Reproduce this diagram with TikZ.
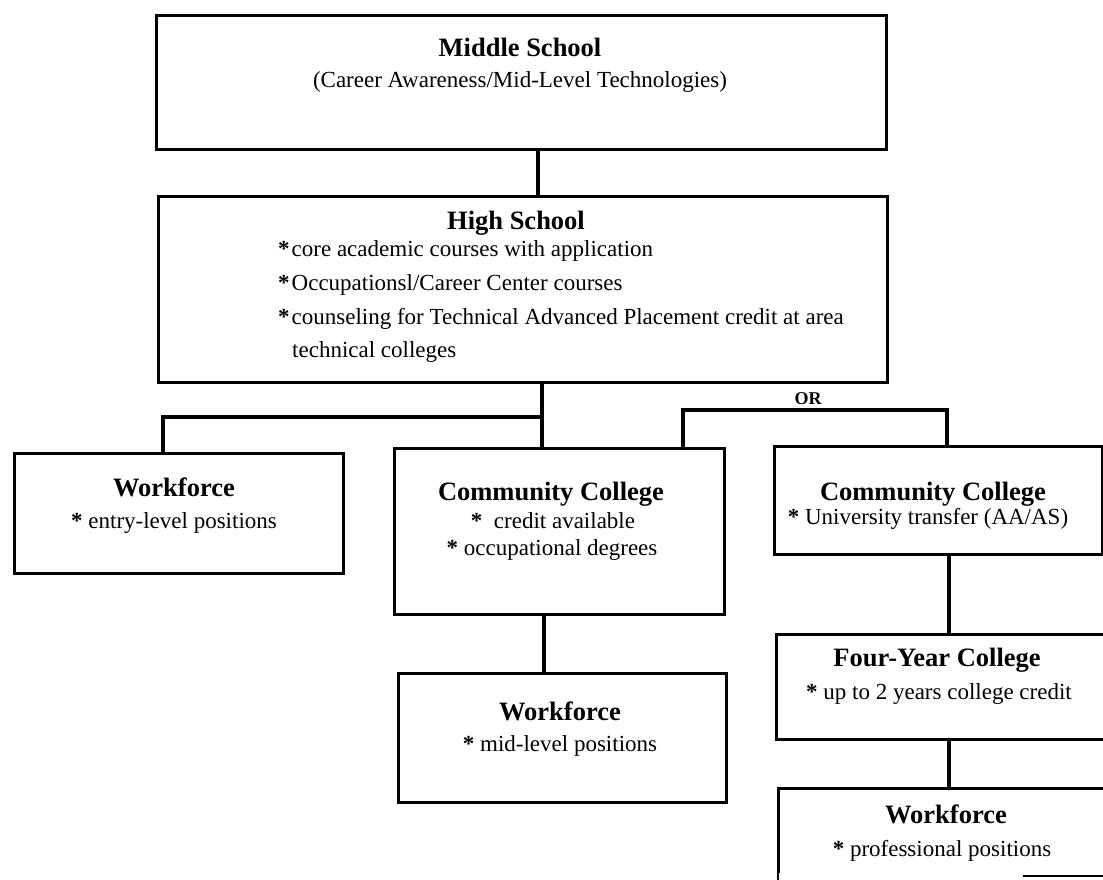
\documentclass[tikz,border=0pt]{standalone}
\usepackage{fontspec}
\setmainfont{Liberation Serif}
\newcommand{\mybul}{\textbf{*}}
\begin{document}
\begin{tikzpicture}[x=1pt,y=-1pt,
  box/.style={draw, line width=2.6pt, rectangle, inner sep=0pt, anchor=north west},
  conn/.style={line width=4.5pt, line join=miter},
  ttl/.style={font=\fontsize{26.5}{30}\selectfont\bfseries, anchor=base, inner sep=0pt},
  txt/.style={font=\fontsize{23}{26}\selectfont, anchor=base, inner sep=0pt},
  txtl/.style={font=\fontsize{23}{26}\selectfont, anchor=base west, inner sep=0pt},
  orlab/.style={font=\fontsize{18}{20}\selectfont\bfseries, anchor=base, inner sep=0pt}]
\useasboundingbox (0,0) rectangle (1103,879);
\clip (0,0) rectangle (1103,879);

% boxes
\node[box, minimum width=730, minimum height=134] (ms) at (155,14) {};
\node[box, minimum width=729, minimum height=186] (hs) at (157,195) {};
\node[box, minimum width=329, minimum height=120] (wf1) at (13,452) {};
\node[box, minimum width=330, minimum height=166] (cc1) at (393,447) {};
\node[box, minimum width=328, minimum height=108] (cc2) at (773,445) {};
\node[box, minimum width=340, minimum height=105] (fy) at (775,633) {};
\node[box, minimum width=328, minimum height=129] (wf2) at (397,672) {};
\node[box, minimum width=340, minimum height=140] (wf3) at (777,787) {};
\fill[white] (779,873) rectangle (1120,930);
\draw[line width=2pt] (1023,876) -- (1110,876);

% texts
\node[ttl] (mst) at (520,56) {Middle School};
\node[txt] (mss) at (520,87) {(Career Awareness/Mid-Level Technologies)};

\node[ttl] (hst) at (516,229) {High School};
\node[txtl] (hs1) at (278,256) {\mybul\hspace{2pt}core academic courses with application};
\node[txtl] (hs2) at (278,290) {\mybul\hspace{2pt}Occupationsl/Career Center courses};
\node[txtl] (hs3) at (278,324) {\mybul\hspace{2pt}counseling for Technical Advanced Placement credit at area};
\node[txtl] (hs4) at (292,357) {technical colleges};

\node[ttl] (wf1t) at (174,496) {Workforce};
\node[txt] (wf1a) at (174,528) {\mybul\ entry-level positions};

\node[ttl] (cc1t) at (551,500) {Community College};
\node[txt] (cc1a) at (553,528) {\mybul\ \ credit available};
\node[txt] (cc1b) at (552,555) {\mybul\ occupational degrees};

\node[ttl] (cc2t) at (933,500) {Community College};
\node[txt] (cc2a) at (928,524) {\mybul\ University transfer (AA/AS)};

\node[ttl] (fyt) at (937,666) {Four-Year College};
\node[txt] (fya) at (939,699) {\mybul\ up to 2 years college credit};

\node[ttl] (wf2t) at (560,720) {Workforce};
\node[txt] (wf2a) at (560,751) {\mybul\ mid-level positions};

\node[ttl] (wf3t) at (946,823) {Workforce};
\node[txt] (wf3a) at (942,856) {\mybul\ professional positions};

\node[orlab] (or) at (808,404) {OR};

% connectors
\coordinate (j1) at (538,0);
\draw[conn] (ms.south -| j1) -- (hs.north -| j1);

\coordinate (jL) at (542,417);
\coordinate (jW) at (163,417);
\draw[conn] (hs.south -| jL) -- (cc1.north -| jL);
\draw[conn] (jL) -- (jW) -- (wf1.north -| jW);

\coordinate (o1) at (683,410);
\coordinate (o2) at (947,410);
\draw[conn] (cc1.north -| o1) -- (o1) -- (o2) -- (cc2.north -| o2);

\coordinate (jM) at (544,0);
\draw[conn] (cc1.south -| jM) -- (wf2.north -| jM);

\coordinate (jR) at (949,0);
\draw[conn] (cc2.south -| jR) -- (fy.north -| jR);
\draw[conn] (fy.south -| jR) -- (wf3.north -| jR);
\end{tikzpicture}
\end{document}
